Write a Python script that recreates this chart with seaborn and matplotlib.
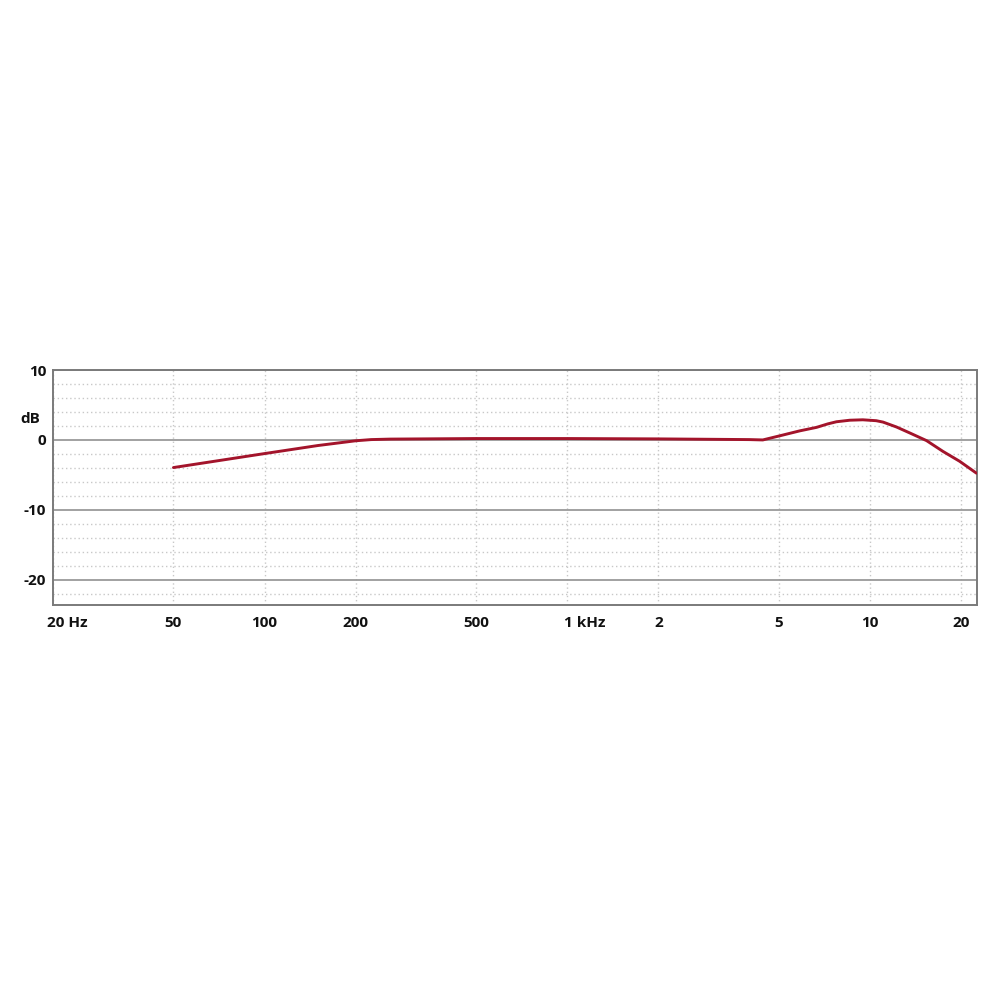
import numpy as np
import pandas as pd
import matplotlib
matplotlib.use('Agg')
import matplotlib.pyplot as plt
import matplotlib.transforms as mtransforms
from matplotlib.ticker import FixedLocator, NullLocator
import seaborn as sns

# Frequency response
freq_hz = [50, 100, 150, 200, 225, 260, 500, 1000, 2000, 4000, 4430,
           5050, 5870, 6670, 7270, 7760, 8590, 9480, 10500, 11060, 12250,
           13550, 15400, 17460, 19800, 22500]
level_db = [-3.95, -1.95, -0.8, -0.12, 0.05, 0.12, 0.2, 0.2, 0.15, 0.05, 0.0,
            0.6, 1.3, 1.8, 2.3, 2.6, 2.82, 2.88, 2.75, 2.55, 1.85,
            1.0, -0.1, -1.65, -3.05, -4.75]

x_ticks = [20, 50, 100, 200, 500, 1000, 2000, 5000, 10000, 20000]
x_labels = ['20 Hz', '50', '100', '200', '500', '1 kHz', '2', '5', '10', '20']
y_major = [10, 0, -10, -20]
y_labels = ['10', '0', '-10', '-20']
y_minor = [8, 6, 4, 2, -2, -4, -6, -8, -12, -14, -16, -18, -22]

df = pd.DataFrame({'freq': freq_hz, 'db': level_db})

sns.set_style('white')
plt.rcParams['font.family'] = ['Open Sans', 'DejaVu Sans']

fig = plt.figure(figsize=(10, 10), dpi=100)
ax = fig.add_axes([0.053, 0.395, 0.924, 0.235])

ax.set_xscale('log')
ax.set_xlim(20, 22600)
ax.set_ylim(-23.6, 10)

# grid
ax.xaxis.set_major_locator(FixedLocator(x_ticks))
ax.xaxis.set_minor_locator(NullLocator())
ax.set_xticklabels(x_labels)
ax.set_yticks(y_major)
ax.set_yticklabels(y_labels)
ax.yaxis.set_minor_locator(FixedLocator(y_minor))

ax.grid(True, axis='x', which='major', color='#c8c8c8', linestyle=(0, (1, 2)), linewidth=1.0)
ax.grid(True, axis='y', which='minor', color='#c8c8c8', linestyle=(0, (1, 2)), linewidth=1.0)
ax.grid(True, axis='y', which='major', color='#9a9a9a', linestyle='-', linewidth=1.3)

sns.lineplot(data=df, x='freq', y='db', ax=ax, color='#a3142b', linewidth=2.1,
             zorder=5)
ax.set_xlabel('')
ax.set_ylabel('')

for side in ['left', 'right', 'top', 'bottom']:
    ax.spines[side].set_visible(True)
    ax.spines[side].set_color('#7a7a7a')
    ax.spines[side].set_linewidth(1.4)

ax.tick_params(axis='both', which='both', length=0, labelsize=11)
ax.tick_params(axis='x', pad=8)
ax.tick_params(axis='y', pad=5)
for lbl in ax.get_xticklabels() + ax.get_yticklabels():
    lbl.set_fontweight('bold')
    lbl.set_color('#111111')

# labels with units keep the number over the tick
for idx, shift in [(0, -6), (5, -3)]:
    lbl = ax.get_xticklabels()[idx]
    lbl.set_horizontalalignment('left')
    lbl.set_transform(lbl.get_transform() +
                      mtransforms.ScaledTranslation(shift / 100, 0, fig.dpi_scale_trans))

ax.text(-0.025, 0.79, 'dB', transform=ax.transAxes, ha='center', va='center',
        fontsize=11, fontweight='bold', color='#111111')

fig.savefig('out.png', dpi=100, facecolor='white')
